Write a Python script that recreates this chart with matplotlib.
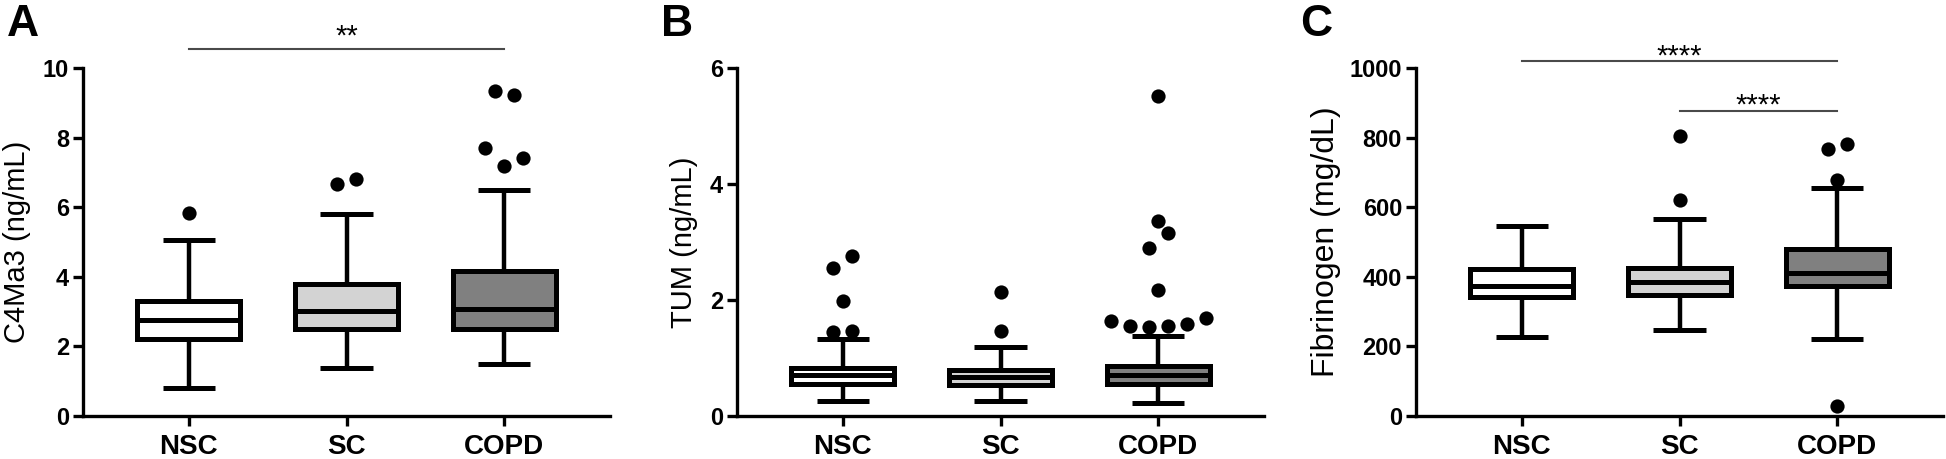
import matplotlib
matplotlib.use("Agg")
import matplotlib.pyplot as plt
import numpy as np

# ── Data ────────────────────────────────────────────────────
groups = ["NSC", "SC", "COPD"]
box_colors = ["#ffffff", "#d3d3d3", "#808080"]

# each row: whisker low, Q1, median, Q3, whisker high
c4ma3_stats = [
    [0.80, 2.22, 2.75, 3.30, 5.07],
    [1.39, 2.49, 3.01, 3.78, 5.81],
    [1.50, 2.49, 3.08, 4.16, 6.48],
]
# outliers per group, points sharing a row are spread side by side
c4ma3_outliers = [
    [[5.84]],
    [[6.67, 6.82]],
    [[9.33, 9.23], [7.70, 7.18, 7.42]],
]

tum_stats = [
    [0.26, 0.55, 0.71, 0.83, 1.33],
    [0.26, 0.53, 0.67, 0.80, 1.19],
    [0.22, 0.55, 0.71, 0.86, 1.38],
]
tum_outliers = [
    [[2.56, 2.76], [1.98], [1.45, 1.46]],
    [[2.14], [1.46]],
    [[5.51], [3.36], [2.90, 3.16], [2.18], [1.64, 1.56, 1.53, 1.56, 1.58, 1.69]],
]

fib_stats = [
    [228, 342, 375, 423, 547],
    [246, 349, 385, 426, 565],
    [220, 375, 411, 480, 656],
]
fib_outliers = [
    [],
    [[804], [622]],
    [[766, 783], [679], [29]],
]

c4ma3_ticks = [0, 2, 4, 6, 8, 10]
tum_ticks = [0, 2, 4, 6]
fib_ticks = [0, 200, 400, 600, 800, 1000]

# significance bars: (from group, to group, bar height, label)
c4ma3_sig = [(0, 2, 10.55, "**")]
tum_sig = []
fib_sig = [(0, 2, 1019, "****"), (1, 2, 876, "****")]

NARROW = ["Liberation Sans Narrow", "Liberation Sans", "DejaVu Sans"]
REGULAR = ["Liberation Sans", "DejaVu Sans"]

FIG_W, FIG_H = 1946, 459


def draw_panel(ax, stats, outliers, ticks, sig, star_dy, ylabel, label_x, label_size):
    bstats = [dict(whislo=s[0], q1=s[1], med=s[2], q3=s[3], whishi=s[4], fliers=[])
              for s in stats]
    bp = ax.bxp(bstats, positions=range(len(groups)), widths=0.65, capwidths=0.33,
                patch_artist=True, showfliers=False,
                boxprops=dict(linewidth=3.6, edgecolor="black"),
                whiskerprops=dict(linewidth=3.2, color="black", solid_capstyle="butt"),
                capprops=dict(linewidth=3.6, color="black", solid_capstyle="butt"),
                medianprops=dict(linewidth=3.6, color="black", solid_capstyle="butt"))
    for patch, c in zip(bp["boxes"], box_colors):
        patch.set_facecolor(c)

    for i, rows in enumerate(outliers):
        for row in rows:
            n = len(row)
            offs = (np.arange(n) - (n - 1) / 2) * 0.12
            ax.scatter(i + offs, row, s=105, color="black", zorder=5, linewidths=0)

    for a, b, y, lab in sig:
        ax.plot([a, b], [y, y], color="#4a4a4a", lw=1.5, clip_on=False)
        ax.annotate(lab, xy=((a + b) / 2, y), xytext=(0, star_dy), textcoords="offset points",
                    ha="center", va="baseline", fontsize=21, family=REGULAR,
                    annotation_clip=False)

    ax.set_xlim(-0.67, 2.67)
    ax.set_ylim(0, ticks[-1])
    ax.set_yticks(ticks)
    ax.set_xticks(range(len(groups)))
    ax.set_xticklabels(groups, fontsize=20, fontweight="bold", family=NARROW)
    ax.set_yticklabels([str(t) for t in ticks], fontsize=17, fontweight="bold", family=NARROW)
    ax.tick_params(length=7, width=2.4, pad=3)
    ax.tick_params(axis="x", pad=6)

    for side in ["top", "right"]:
        ax.spines[side].set_visible(False)
    for side in ["left", "bottom"]:
        ax.spines[side].set_linewidth(2.4)

    ax.set_ylabel(ylabel, fontsize=label_size, family=REGULAR)
    ax.yaxis.set_label_coords(label_x, 0.5)


fig = plt.figure(figsize=(FIG_W / 100, FIG_H / 100), dpi=100)

lefts = [83, 737, 1416]
ax_w, ax_bottom, ax_h = 527, 43, 348
axes = [fig.add_axes([l / FIG_W, ax_bottom / FIG_H, ax_w / FIG_W, ax_h / FIG_H]) for l in lefts]

draw_panel(axes[0], c4ma3_stats, c4ma3_outliers, c4ma3_ticks, c4ma3_sig, 3,
           "C4Ma3 (ng/mL)", -0.099, 21)
draw_panel(axes[1], tum_stats, tum_outliers, tum_ticks, tum_sig, 0,
           "TUM (ng/mL)", -0.074, 21)
draw_panel(axes[2], fib_stats, fib_outliers, fib_ticks, fib_sig, -2,
           "Fibrinogen (mg/dL)", -0.142, 23)

# panel letters
for letter, x in zip(["A", "B", "C"], [7, 661, 1300]):
    fig.text(x / FIG_W, 1 - 4 / FIG_H, letter, fontsize=32, fontweight="bold",
             family=REGULAR, ha="left", va="top")

fig.savefig("out.png", dpi=100)
